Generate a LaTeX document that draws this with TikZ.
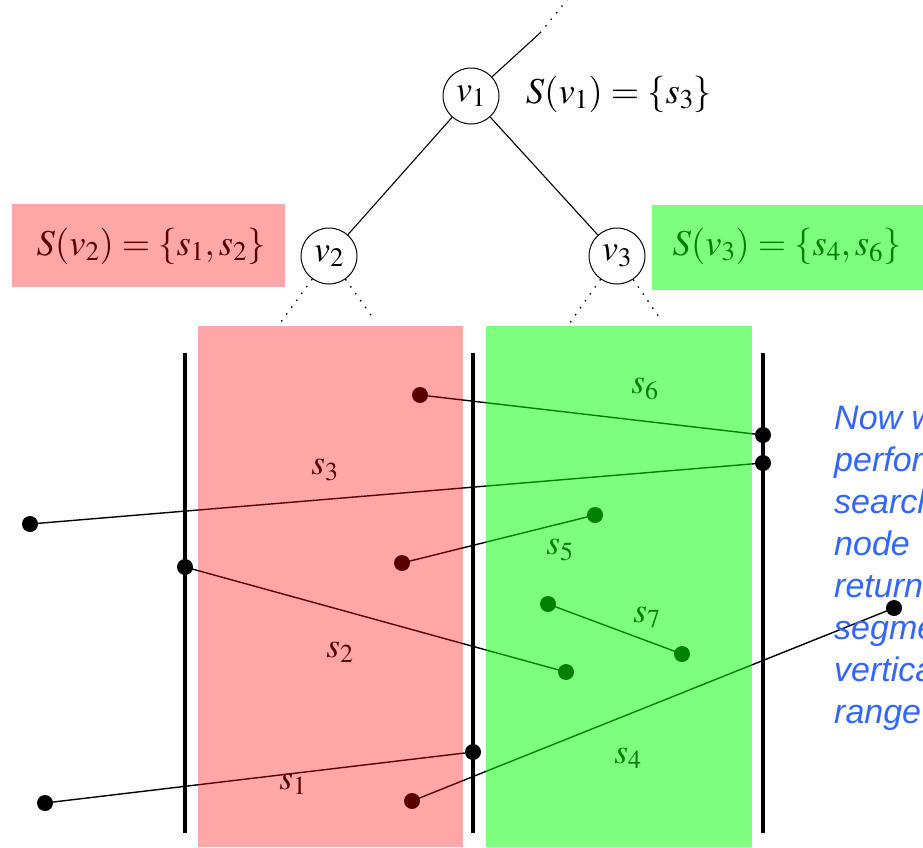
\documentclass[tikz,border=0pt]{standalone}
\usepackage{mathptmx}
\usepackage{fontspec}
\setmainfont{Liberation Serif}
\setsansfont{Liberation Sans}
\definecolor{noteblue}{RGB}{51,102,255}
\tikzset{
  vnode/.style={draw, circle, line width=1pt, minimum size=56pt, inner sep=0pt, fill=white, font=\fontsize{36}{42}\selectfont},
  mathlbl/.style={font=\fontsize{36.5}{42}\selectfont, inner sep=0pt},
  seglbl/.style={font=\fontsize{35}{40}\selectfont, inner sep=0pt},
  treeedge/.style={line width=1.1pt},
  dotedge/.style={line width=1.3pt, dash pattern=on 1.5pt off 7pt},
  slab/.style={line width=4pt},
  seg/.style={line width=1.4pt},
  pt/.style={circle, fill=black, minimum size=16pt, inner sep=0pt},
  note/.style={anchor=base west, inner sep=0pt, text=noteblue, font=\sffamily\itshape\fontsize{34}{42}\selectfont}
}
\begin{document}
\begin{tikzpicture}[x=1pt,y=-1pt]
\useasboundingbox (0,0) rectangle (923,847);
\clip (0,0) rectangle (923,847);

% tree
\node[vnode] (v1) at (471,96) {$v_1$};
\node[vnode] (v2) at (329,256) {$v_2$};
\node[vnode] (v3) at (617,256) {$v_3$};
\coordinate (top1) at (540,33);
\coordinate (top2) at (567,0);
\draw[treeedge] (v1) -- (top1);
\draw[dotedge] (top1) -- (top2);
\draw[treeedge] (v1) -- (v2);
\draw[treeedge] (v1) -- (v3);
\coordinate (v2l) at (278,326);
\coordinate (v2r) at (373,318);
\coordinate (v3l) at (569,324);
\coordinate (v3r) at (661,320);
\draw[dotedge] (v2) -- (v2l);
\draw[dotedge] (v2) -- (v2r);
\draw[dotedge] (v3) -- (v3l);
\draw[dotedge] (v3) -- (v3r);

\node[mathlbl] (S1) at (619,94) {$S(v_1)=\{s_3\}$};
\node[mathlbl] (S2) at (151,246) {$S(v_2)=\{s_1,s_2\}$};
\node[mathlbl] (S3) at (787,246) {$S(v_3)=\{s_4,s_6\}$};

% slab boundaries
\coordinate (L1t) at (185,353); \coordinate (L1b) at (185,833);
\coordinate (L2t) at (473,353); \coordinate (L2b) at (473,833);
\coordinate (L3t) at (763,353); \coordinate (L3b) at (763,833);
\draw[slab] (L1t) -- (L1b);
\draw[slab] (L2t) -- (L2b);
\draw[slab] (L3t) -- (L3b);

% segments
\node[pt] (a6) at (420,395) {};
\node[pt] (b6) at (763,435) {};
\node[pt] (a3) at (30,524) {};
\node[pt] (b3) at (763,463) {};
\node[pt] (a5) at (402,563) {};
\node[pt] (b5) at (595,515) {};
\node[pt] (a2) at (185,567) {};
\node[pt] (b2) at (566,672) {};
\node[pt] (a7) at (548,604) {};
\node[pt] (b7) at (682,654) {};
\node[pt] (a1) at (45,803) {};
\node[pt] (b1) at (473,752) {};
\node[pt] (a4) at (412,801) {};
\node[pt] (b4) at (894,608) {};
\draw[seg] (a6.center) -- (b6.center);
\draw[seg] (a3.center) -- (b3.center);
\draw[seg] (a5.center) -- (b5.center);
\draw[seg] (a2.center) -- (b2.center);
\draw[seg] (a7.center) -- (b7.center);
\draw[seg] (a1.center) -- (b1.center);
\draw[seg] (a4.center) -- (b4.center);

\node[seglbl] (l6) at (645,389) {$s_6$};
\node[seglbl] (l3) at (325,470) {$s_3$};
\node[seglbl] (l5) at (560,550) {$s_5$};
\node[seglbl] (l7) at (647,617) {$s_7$};
\node[seglbl] (l2) at (340,652) {$s_2$};
\node[seglbl] (l4) at (628,758) {$s_4$};
\node[seglbl] (l1) at (293,784) {$s_1$};

% note text
\node[note] (n1) at (834,429) {Now we};
\node[note] (n2) at (834,471) {perform};
\node[note] (n3) at (834,513) {search};
\node[note] (n4) at (834,555) {node};
\node[note] (n5) at (834,597) {return};
\node[note] (n6) at (834,639) {segments};
\node[note] (n7) at (834,681) {vertical};
\node[note] (n8) at (834,723) {range};

% translucent overlays
\fill[red, opacity=0.35] (198,326) rectangle (463,847);
\fill[green, opacity=0.5] (486,326) rectangle (752,847);
\fill[red, opacity=0.35] (12,204) rectangle (285,287);
\fill[green, opacity=0.5] (652,205) rectangle (923,290);
\end{tikzpicture}
\end{document}
